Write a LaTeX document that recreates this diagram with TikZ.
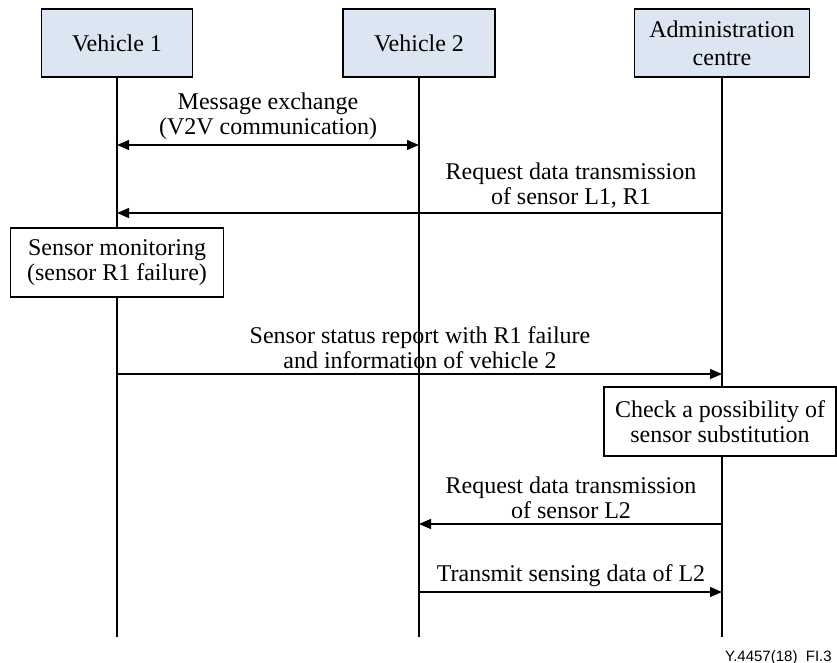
\documentclass[tikz,border=0pt]{standalone}
\usepackage{fontspec}
\setmainfont{Liberation Serif}
\newfontfamily\figlabelfont{Liberation Sans}
\usetikzlibrary{arrows.meta}

\definecolor{actorfill}{HTML}{DCE6F2}

\tikzset{
  txt/.style={font=\fontsize{24}{25}\selectfont},
  actor/.style={font=\fontsize{24}{28}\selectfont, draw, line width=1.2pt,
    fill=actorfill, align=center, minimum width=151pt, minimum height=68pt,
    inner sep=2pt},
  procbox/.style={txt, draw, line width=1.2pt, fill=white, align=center,
    minimum height=69pt, inner sep=2pt},
  lifeline/.style={line width=1.2pt},
  msg/.style={line width=1.2pt, -{Triangle[length=12pt,width=10pt]}},
  dmsg/.style={line width=1.2pt, {Triangle[length=12pt,width=10pt]}-{Triangle[length=12pt,width=10pt]}},
  msglabel/.style={txt, align=center, inner sep=0pt, anchor=south, yshift=5pt},
}

\begin{document}
\begin{tikzpicture}[x=1pt,y=-1pt]
  \useasboundingbox (0,0) rectangle (837,663);

  % participants
  \node[actor] (v1) at (117,43) {Vehicle 1};
  \node[actor, minimum width=152pt] (v2) at (419,43) {Vehicle 2};
  \node[actor, minimum width=175pt] (ac) at (722,43) {Administration\\centre};

  % lifeline ends
  \coordinate (v1e) at (117,637);
  \coordinate (v2e) at (419,637);
  \coordinate (ace) at (722,637);
  \draw[lifeline] (v1) -- (v1e);
  \draw[lifeline] (v2) -- (v2e);
  \draw[lifeline] (ac) -- (ace);

  % local actions
  \node[procbox, minimum width=213pt] (mon) at (117,262.5)
    {Sensor monitoring\\(sensor R1 failure)};
  \node[procbox, minimum width=232pt] (chk) at (720,421.5)
    {Check a possibility of\\sensor substitution};

  % message end points on the lifelines
  \coordinate (m1a) at (117,145); \coordinate (m1b) at (419,145);
  \coordinate (m2a) at (722,213); \coordinate (m2b) at (117,213);
  \coordinate (m3a) at (117,374); \coordinate (m3b) at (722,374);
  \coordinate (m4a) at (722,524); \coordinate (m4b) at (419,524);
  \coordinate (m5a) at (419,592); \coordinate (m5b) at (722,592);

  % messages
  \draw[dmsg] (m1a) -- (m1b);
  \node[msglabel] (l1) at (268,145) {Message exchange\\(V2V communication)};

  \draw[msg] (m2a) -- (m2b);
  \node[msglabel] (l2) at (571,213) {Request data transmission\\of sensor L1, R1};

  \draw[msg] (m3a) -- (m3b);
  \node[msglabel] (l3) at (420,374) {Sensor status report with R1 failure\\and information of vehicle 2};

  \draw[msg] (m4a) -- (m4b);
  \node[msglabel] (l4) at (571,524) {Request data transmission\\of sensor L2};

  \draw[msg] (m5a) -- (m5b);
  \node[msglabel] (l5) at (571,592) {Transmit sensing data of L2};

  % figure reference
  \node[font=\figlabelfont\fontsize{15}{17}\selectfont, anchor=base west, inner sep=0pt]
    (ref) at (725,661) {Y.4457(18)\_FI.3};
\end{tikzpicture}
\end{document}
